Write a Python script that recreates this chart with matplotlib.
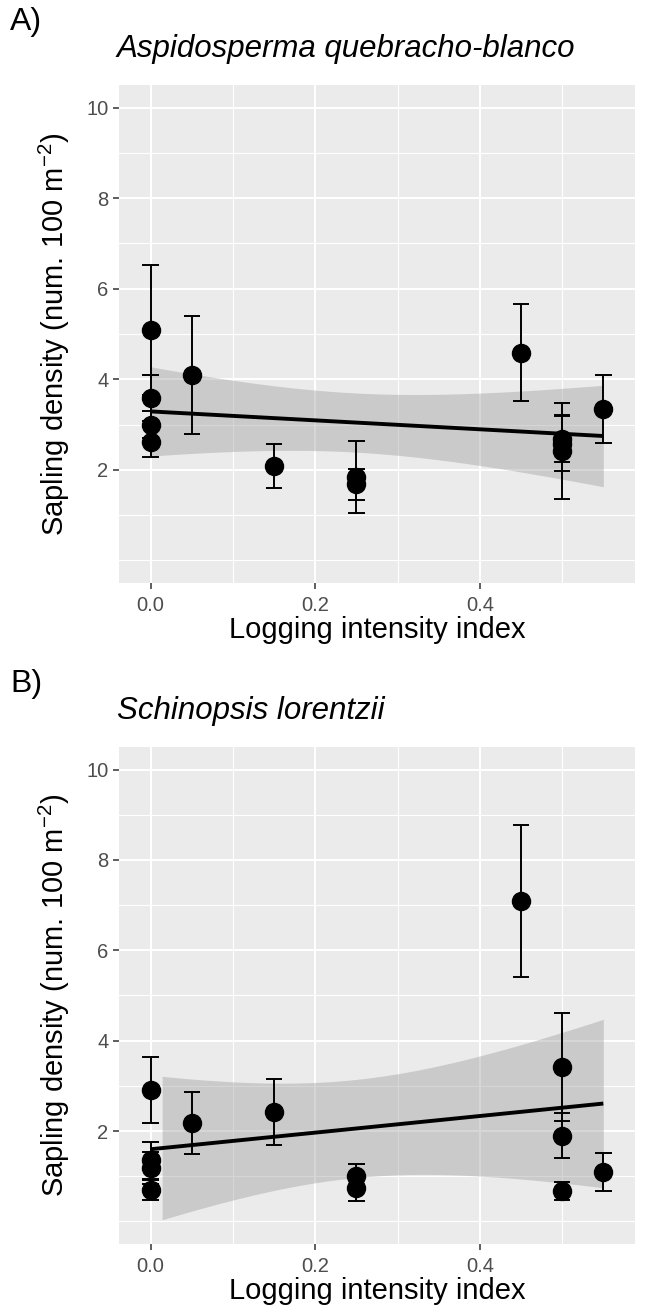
import numpy as np
import matplotlib
matplotlib.use("Agg")
import matplotlib.pyplot as plt

plt.rcParams['font.family'] = ['Liberation Sans', 'DejaVu Sans']
plt.rcParams['mathtext.fontset'] = 'custom'
plt.rcParams['mathtext.rm'] = 'Liberation Sans'
plt.rcParams['mathtext.it'] = 'Liberation Sans:italic'

# panel A: Aspidosperma quebracho-blanco (means +- SE)
x_a = [0.0, 0.0, 0.0, 0.0, 0.05, 0.15, 0.25, 0.25, 0.45, 0.5, 0.5, 0.5, 0.55]
y_a = [5.09, 3.59, 3.00, 2.62, 4.09, 2.09, 1.84, 1.68, 4.59, 2.69, 2.58, 2.41, 3.34]
se_a = [1.44, 0.51, 0.30, 0.33, 1.30, 0.49, 0.80, 0.34, 1.08, 0.52, 0.60, 1.06, 0.75]

# panel B: Schinopsis lorentzii
x_b = [0.0, 0.0, 0.0, 0.0, 0.05, 0.15, 0.25, 0.25, 0.45, 0.5, 0.5, 0.5, 0.55]
y_b = [2.91, 1.35, 1.18, 0.70, 2.18, 2.42, 1.00, 0.73, 7.09, 3.42, 1.90, 0.67, 1.10]
se_b = [0.73, 0.41, 0.36, 0.22, 0.68, 0.73, 0.28, 0.27, 1.68, 1.20, 0.50, 0.20, 0.42]

titles = ['Aspidosperma quebracho-blanco', 'Schinopsis lorentzii']
tags = ['A)', 'B)']
t_crit = {11: 2.200985, 12: 2.178813}

W, H = 658, 1307


def lm_band(x, y):
    x = np.asarray(x); y = np.asarray(y)
    n = len(x)
    b1, b0 = np.polyfit(x, y, 1)
    xs = np.linspace(x.min(), x.max(), 80)
    yhat = b0 + b1 * xs
    s = np.sqrt(np.sum((y - (b0 + b1 * x)) ** 2) / (n - 2))
    se = s * np.sqrt(1 / n + (xs - x.mean()) ** 2 / np.sum((x - x.mean()) ** 2))
    t = t_crit[n - 2]
    return xs, yhat, yhat - t * se, yhat + t * se


def panel(ax, x, y, se):
    ax.set_facecolor('#EBEBEB')
    xs, yhat, lo, hi = lm_band(x, y)
    # ggplot drops ribbon rows that fall outside the y limits
    keep = (lo >= 0) & (hi <= 10)
    ax.fill_between(xs[keep], lo[keep], hi[keep], color='#999999', alpha=0.4, lw=0, zorder=2)
    ax.plot(xs, yhat, color='black', lw=2.8, zorder=3, solid_capstyle='butt')
    x = np.asarray(x); y = np.asarray(y); se = np.asarray(se)
    ax.vlines(x, y - se, y + se, color='black', lw=1.4, zorder=4)
    ax.hlines(y - se, x - 0.01, x + 0.01, color='black', lw=1.4, zorder=4)
    ax.hlines(y + se, x - 0.01, x + 0.01, color='black', lw=1.4, zorder=4)
    ax.plot(x, y, 'o', color='black', ms=13, zorder=5)

    ax.set_xlim(-0.0385, 0.5885)
    ax.set_ylim(-0.5, 10.5)
    ax.set_xticks([0.0, 0.2, 0.4])
    ax.set_xticklabels(['0.0', '0.2', '0.4'])
    ax.set_xticks([0.1, 0.3, 0.5], minor=True)
    ax.set_yticks([2, 4, 6, 8, 10])
    ax.set_yticks([0, 1, 3, 5, 7, 9], minor=True)
    ax.grid(which='major', color='white', lw=1.5)
    ax.grid(which='minor', color='white', lw=0.8)
    ax.set_axisbelow(True)
    for sp in ax.spines.values():
        sp.set_visible(False)
    ax.tick_params(which='major', length=4, width=1.1, color='#333333',
                   labelcolor='#4D4D4D', labelsize=14.5)
    ax.tick_params(axis='x', which='major', pad=5.5)
    ax.tick_params(axis='y', which='major', pad=3.5)
    ax.tick_params(which='minor', length=0)
    ax.set_xlabel('Logging intensity index', fontsize=21, labelpad=0.5)
    ax.set_ylabel('Sapling density (num. 100 m$^{-2}$)', fontsize=21, labelpad=10)


fig = plt.figure(figsize=(W / 100, H / 100), dpi=100)
boxes = [(119, 85, 635, 583), (119, 747, 635, 1244)]
data = [(x_a, y_a, se_a), (x_b, y_b, se_b)]
for i, (l, t, r, b) in enumerate(boxes):
    ax = fig.add_axes([l / W, 1 - b / H, (r - l) / W, (b - t) / H])
    panel(ax, *data[i])
    fig.text(117 / W, 1 - (t - 36) / H, titles[i], fontsize=22.5, style='italic',
             ha='left', va='center')
    fig.text(10 / W, 1 - (t - 63) / H, tags[i], fontsize=23, ha='left', va='center')

fig.savefig('out.png', dpi=100)
